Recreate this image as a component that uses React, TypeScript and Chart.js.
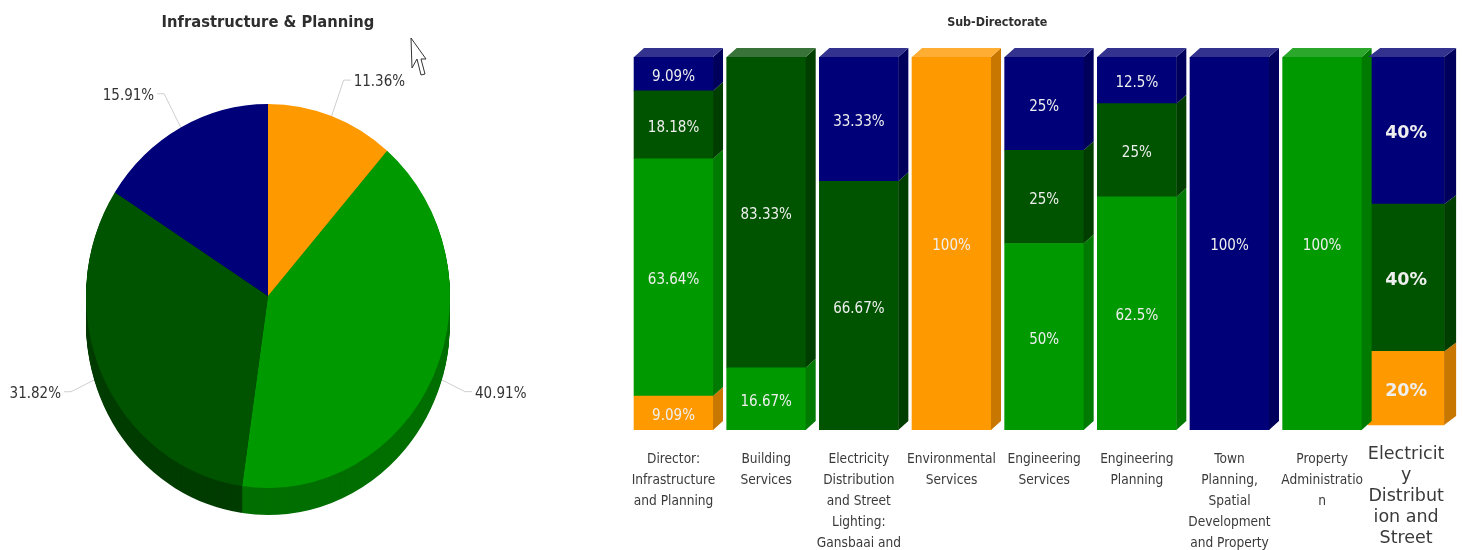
import React, { useEffect, useRef } from "react";
import { Chart, registerables, CategoryScale } from "chart.js";

const pieLabels = ["Orange", "Green", "Dark green", "Navy"];
const pieValues = [11.36, 40.91, 31.82, 15.91];
const pieColors = ["#FF9900", "#009900", "#005400", "#000078"];
const pieSideColors = ["#C87800", "#006F00", "#003C00", "#00004F"];

const subDirectorates = [
  ["Director:", "Infrastructure", "and Planning"],
  ["Building", "Services"],
  ["Electricity", "Distribution", "and Street", "Lighting:", "Gansbaai and"],
  ["Environmental", "Services"],
  ["Engineering", "Services"],
  ["Engineering", "Planning"],
  ["Town", "Planning,", "Spatial", "Development", "and Property"],
  ["Property", "Administratio", "n"],
  ["Electricit", "y", "Distribut", "ion and", "Street"],
];
const orangeValues = [9.09, null, null, 100, null, null, null, null, 20];
const greenValues = [63.64, 16.67, null, null, 50, 62.5, null, 100, null];
const darkGreenValues = [18.18, 83.33, 66.67, null, 25, 25, null, null, 40];
const navyValues = [9.09, null, 33.33, null, 25, 12.5, 100, null, 40];

const barColors = ["#FF9900", "#009900", "#005400", "#000078"];
const barSideColors = ["#C87800", "#007A00", "#003E00", "#00005C"];
const barTopColors = ["#FFAD33", "#2BA82B", "#397339", "#33338F"];

const CONDENSED = '"DejaVu Sans Condensed", "DejaVu Sans", sans-serif';
const WIDE = '"DejaVu Sans", sans-serif';
const PASTED = 8;

class ShiftedCategoryScale extends CategoryScale {
  static id = "shiftedCategory";
  static defaults = CategoryScale.defaults;
  getPixelForValue(value: any) {
    const p = super.getPixelForValue(value);
    return value === PASTED ? p - 8.7 : p;
  }
  _computeLabelItems(area: any) {
    const items = super._computeLabelItems(area);
    if (items[PASTED]) items[PASTED].options.translation[1] -= 5;
    return items;
  }
}

Chart.register(...registerables, ShiftedCategoryScale);

const SQUASH = 182 / 192;
const DEPTH = 27;

const piePlugin = {
  id: "pie3d",
  beforeDatasetsDraw(chart: any) {
    const ctx = chart.ctx;
    const arcs = chart.getDatasetMeta(0).data;
    arcs.forEach((a: any) => {
      const mid = (a.startAngle + a.endAngle) / 2;
      const sx = Math.cos(mid) * a.outerRadius * SQUASH;
      const sy = Math.sin(mid) * a.outerRadius;
      const ex = a.x + sx * 1.19;
      const ey = a.y + sy * 1.2;
      ctx.save();
      ctx.strokeStyle = "#CFCFCF";
      ctx.lineWidth = 1;
      ctx.beginPath();
      ctx.moveTo(a.x + sx, a.y + sy);
      ctx.lineTo(ex, ey);
      ctx.lineTo(ex + (sx > 0 ? 7 : -7), ey);
      ctx.stroke();
      ctx.restore();
    });
    for (let d = DEPTH; d >= 1; d--) {
      arcs.forEach((a: any, i: number) => {
        ctx.save();
        ctx.translate(a.x, a.y + d);
        ctx.scale(SQUASH, 1);
        ctx.fillStyle = pieSideColors[i];
        ctx.beginPath();
        ctx.moveTo(0, 0);
        ctx.arc(0, 0, a.outerRadius, a.startAngle, a.endAngle);
        ctx.closePath();
        ctx.fill();
        ctx.restore();
      });
    }
    const a0 = arcs[0];
    ctx.save();
    ctx.translate(a0.x, a0.y);
    ctx.scale(SQUASH, 1);
    ctx.translate(-a0.x, -a0.y);
  },
  afterDatasetsDraw(chart: any) {
    const ctx = chart.ctx;
    ctx.restore();
    const arcs = chart.getDatasetMeta(0).data;
    arcs.forEach((a: any, i: number) => {
      const mid = (a.startAngle + a.endAngle) / 2;
      const sx = Math.cos(mid) * a.outerRadius * SQUASH;
      const sy = Math.sin(mid) * a.outerRadius;
      const ex = a.x + sx * 1.19;
      const ey = a.y + sy * 1.2;
      ctx.save();
      ctx.fillStyle = "#333333";
      ctx.font = `15px ${CONDENSED}`;
      ctx.textBaseline = "middle";
      ctx.textAlign = sx > 0 ? "left" : "right";
      ctx.fillText(`${pieValues[i]}%`, ex + (sx > 0 ? 10 : -10), ey + 2);
      ctx.restore();
    });
  },
  afterDraw(chart: any) {
    const ctx = chart.ctx;
    const pts = [
      [411, 38], [412, 68], [417, 59], [421, 75], [425, 74], [421, 59], [426, 59],
    ];
    ctx.save();
    ctx.fillStyle = "#FFFFFF";
    ctx.strokeStyle = "#333333";
    ctx.lineWidth = 1;
    ctx.beginPath();
    pts.forEach((p, i) => (i ? ctx.lineTo(p[0], p[1]) : ctx.moveTo(p[0], p[1])));
    ctx.closePath();
    ctx.fill();
    ctx.stroke();
    ctx.restore();
  },
};

const barPlugin = {
  id: "bar3d",
  afterDatasetsUpdate(chart: any) {
    const area = chart.chartArea;
    const k = (area.bottom - 5 - area.top) / (area.bottom - area.top);
    chart.data.datasets.forEach((_: any, ds: number) => {
      const el = chart.getDatasetMeta(ds).data[PASTED];
      if (!el) return;
      el.y = area.top + (el.y - area.top) * k;
      el.base = area.top + (el.base - area.top) * k;
      el.height = el.base - el.y;
      el.width = 76;
    });
  },
  afterDatasetsDraw(chart: any) {
    const ctx = chart.ctx;
    const count = chart.data.labels.length;
    for (let c = 0; c < count; c++) {
      const dx = c === PASTED ? 12 : 10;
      const dy = 9;
      let topEl: any = null;
      let topDs = -1;
      chart.data.datasets.forEach((d: any, ds: number) => {
        if (d.data[c] == null) return;
        const el = chart.getDatasetMeta(ds).data[c];
        const r = el.x + el.width / 2;
        ctx.fillStyle = barSideColors[ds];
        ctx.beginPath();
        ctx.moveTo(r, el.y);
        ctx.lineTo(r + dx, el.y - dy);
        ctx.lineTo(r + dx, el.base - dy);
        ctx.lineTo(r, el.base);
        ctx.closePath();
        ctx.fill();
        topEl = el;
        topDs = ds;
      });
      if (topEl) {
        const l = topEl.x - topEl.width / 2;
        const r = topEl.x + topEl.width / 2;
        ctx.fillStyle = barTopColors[topDs];
        ctx.beginPath();
        ctx.moveTo(l, topEl.y);
        ctx.lineTo(l + dx, topEl.y - dy);
        ctx.lineTo(r + dx, topEl.y - dy);
        ctx.lineTo(r, topEl.y);
        ctx.closePath();
        ctx.fill();
      }
      chart.data.datasets.forEach((d: any, ds: number) => {
        if (d.data[c] == null) return;
        const el = chart.getDatasetMeta(ds).data[c];
        ctx.save();
        ctx.fillStyle = "#EFEFEF";
        ctx.font = c === PASTED ? `bold 17.5px ${WIDE}` : `15px ${CONDENSED}`;
        ctx.textAlign = "center";
        ctx.textBaseline = "middle";
        ctx.fillText(`${d.data[c]}%`, el.x, (el.y + el.base) / 2 + 3);
        ctx.restore();
      });
    }
  },
};

const canvasStyle = (left: number, width: number): React.CSSProperties => ({
  position: "absolute",
  left,
  top: 0,
  width,
  height: 550,
  filter: "blur(0.45px)",
});

export default function App() {
  const pieRef = useRef<HTMLCanvasElement>(null);
  const barRef = useRef<HTMLCanvasElement>(null);

  useEffect(() => {
    const pie = new Chart(pieRef.current!, {
      type: "pie",
      data: {
        labels: pieLabels,
        datasets: [{ data: pieValues, backgroundColor: pieColors, borderWidth: 0, radius: 192 } as any],
      },
      options: {
        animation: false,
        responsive: false,
        events: [],
        layout: { padding: 0 },
        plugins: {
          legend: { display: false },
          tooltip: { enabled: false },
          title: {
            display: true,
            text: "Infrastructure & Planning",
            color: "#2E2E2E",
            font: { family: CONDENSED, size: 16.4, weight: "bold", lineHeight: 1 },
            padding: { top: 15, bottom: 10.6 },
          },
        },
      },
      plugins: [piePlugin],
    });

    const names = ["Orange", "Green", "Dark green", "Navy"];
    const series = [orangeValues, greenValues, darkGreenValues, navyValues];
    const bar = new Chart(barRef.current!, {
      type: "bar",
      data: {
        labels: subDirectorates as any,
        datasets: series.map((data, i) => ({
          label: names[i],
          data,
          backgroundColor: barColors[i],
          borderWidth: 0,
          barThickness: 79,
        })),
      },
      options: {
        animation: false,
        responsive: false,
        events: [],
        layout: { padding: { left: 0, right: 1.5, top: 0, bottom: 0 } },
        plugins: {
          legend: { display: false },
          tooltip: { enabled: false },
          title: {
            display: true,
            text: "Sub-Directorate",
            color: "#2E2E2E",
            font: { family: CONDENSED, size: 12.4, weight: "bold", lineHeight: 1 },
            padding: { top: 17, bottom: 27.6 },
          },
        },
        scales: {
          x: {
            type: "shiftedCategory" as any,
            stacked: true,
            grid: { display: false, drawTicks: false },
            border: { display: false },
            afterFit: (s: any) => {
              s.height = 120;
            },
            ticks: {
              autoSkip: false,
              maxRotation: 0,
              minRotation: 0,
              padding: 18.5,
              color: "#3A3A3A",
              font: (ctx: any) =>
                ctx.index === PASTED
                  ? { family: WIDE, size: 17.5, lineHeight: 21 / 17.5 }
                  : { family: CONDENSED, size: 13.6, lineHeight: 21 / 13.6 },
            },
          },
          y: {
            display: true,
            stacked: true,
            min: 0,
            max: 100,
            grid: { display: false, drawTicks: false },
            border: { display: false },
            ticks: { display: false },
            afterFit: (s: any) => {
              s.width = 94.2;
            },
          },
        },
      },
      plugins: [barPlugin],
    });

    return () => {
      pie.destroy();
      bar.destroy();
    };
  }, []);

  return (
    <div style={{ position: "fixed", left: 0, top: 0, width: 1463, height: 550, overflow: "hidden", background: "#fff" }}>
      <canvas ref={pieRef} width={536} height={550} style={canvasStyle(0, 536)} />
      <canvas ref={barRef} width={930} height={550} style={canvasStyle(533, 930)} />
    </div>
  );
}
